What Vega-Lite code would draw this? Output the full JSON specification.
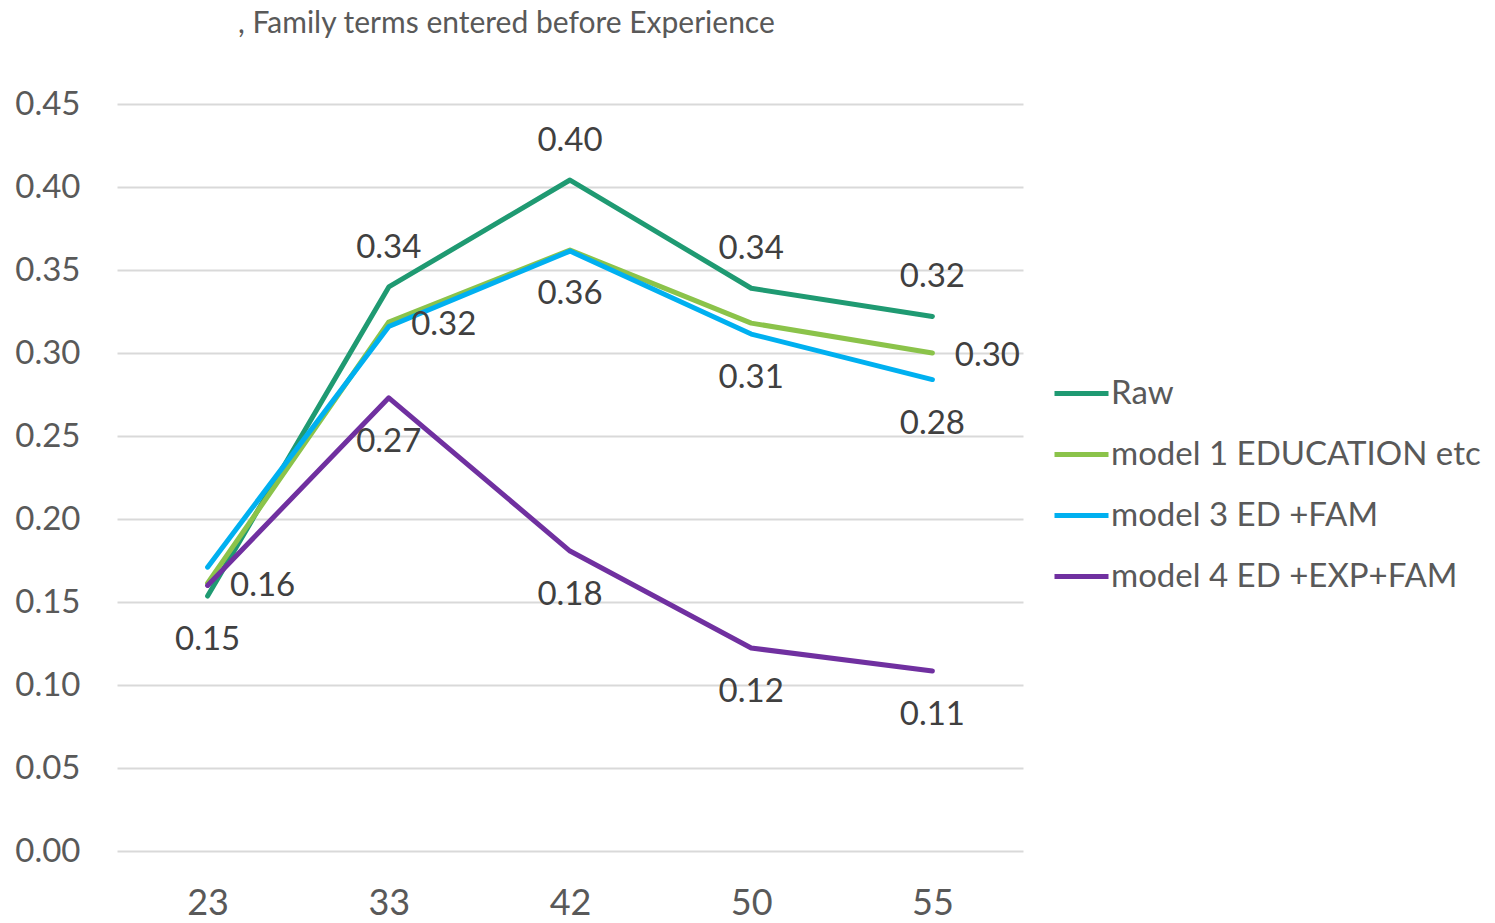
{
  "$schema": "https://vega.github.io/schema/vega-lite/v6.json",
  "autosize": {"type": "none"},
  "padding": {"left": 117, "top": 104, "right": 472, "bottom": 72},
  "width": 906,
  "height": 747,
  "background": "white",
  "config": {
    "font": "Lato",
    "view": {"stroke": null}
  },
  "title": {
    "text": ", Family terms entered before Experience",
    "anchor": "start",
    "frame": "group",
    "dx": 121,
    "offset": 49,
    "fontSize": 30,
    "fontWeight": "normal",
    "color": "#595959",
    "font": "Lato"
  },
  "data": {
    "values": [
      {"age": "23", "series": "Raw", "value": 0.1536},
      {"age": "33", "series": "Raw", "value": 0.3398},
      {"age": "42", "series": "Raw", "value": 0.4042},
      {"age": "50", "series": "Raw", "value": 0.3390},
      {"age": "55", "series": "Raw", "value": 0.3220},
      {"age": "23", "series": "model 1 EDUCATION etc", "value": 0.1614},
      {"age": "33", "series": "model 1 EDUCATION etc", "value": 0.3187},
      {"age": "42", "series": "model 1 EDUCATION etc", "value": 0.3620},
      {"age": "50", "series": "model 1 EDUCATION etc", "value": 0.3180},
      {"age": "55", "series": "model 1 EDUCATION etc", "value": 0.3000},
      {"age": "23", "series": "model 3 ED +FAM", "value": 0.1710},
      {"age": "33", "series": "model 3 ED +FAM", "value": 0.3160},
      {"age": "42", "series": "model 3 ED +FAM", "value": 0.3614},
      {"age": "50", "series": "model 3 ED +FAM", "value": 0.3114},
      {"age": "55", "series": "model 3 ED +FAM", "value": 0.2840},
      {"age": "23", "series": "model 4 ED +EXP+FAM", "value": 0.1600},
      {"age": "33", "series": "model 4 ED +EXP+FAM", "value": 0.2730},
      {"age": "42", "series": "model 4 ED +EXP+FAM", "value": 0.1807},
      {"age": "50", "series": "model 4 ED +EXP+FAM", "value": 0.1223},
      {"age": "55", "series": "model 4 ED +EXP+FAM", "value": 0.1084}
    ]
  },
  "encoding": {
    "x": {
      "field": "age",
      "type": "ordinal",
      "sort": ["23", "33", "42", "50", "55"],
      "scale": {"type": "point", "padding": 0.5},
      "axis": {
        "title": null,
        "labelAngle": 0,
        "domain": false,
        "ticks": false,
        "grid": false,
        "labelPadding": 35,
        "labelFontSize": 36,
        "labelColor": "#595959",
        "labelFont": "Lato"
      }
    },
    "y": {
      "field": "value",
      "type": "quantitative",
      "scale": {"domain": [0, 0.45], "nice": false},
      "axis": {
        "title": null,
        "values": [0, 0.05, 0.1, 0.15, 0.2, 0.25, 0.3, 0.35, 0.4, 0.45],
        "format": ".2f",
        "domain": false,
        "ticks": false,
        "gridColor": "#d9d9d9",
        "gridWidth": 2,
        "labelPadding": 37,
        "labelFontSize": 33,
        "labelColor": "#595959",
        "labelFont": "Lato"
      }
    }
  },
  "layer": [
    {
      "mark": {"type": "line", "strokeWidth": 5, "strokeCap": "round", "strokeJoin": "round"},
      "encoding": {
        "color": {
          "field": "series",
          "type": "nominal",
          "scale": {
            "domain": ["Raw", "model 1 EDUCATION etc", "model 3 ED +FAM", "model 4 ED +EXP+FAM"],
            "range": ["#1f9a72", "#8bc34a", "#00b0f0", "#7030a0"]
          },
          "legend": {
            "title": null,
            "orient": "none",
            "legendX": 935,
            "legendY": 260,
            "symbolType": "stroke",
            "symbolSize": 2916,
            "symbolStrokeWidth": 5,
            "labelOffset": 0,
            "labelFontSize": 33,
            "labelColor": "#595959",
            "labelFont": "Lato",
            "rowPadding": 14,
            "labelLimit": 600
          }
        }
      }
    },
    {
      "transform": [
        {"filter": "datum.series === 'Raw' && datum.age !== '23'"}
      ],
      "mark": {"type": "text", "dy": -39, "fontSize": 33, "color": "#404040", "font": "Lato"},
      "encoding": {"text": {"field": "value", "type": "quantitative", "format": ".2f"}}
    },
    {
      "transform": [
        {"filter": "(datum.series === 'Raw' && datum.age === '23') || datum.series === 'model 4 ED +EXP+FAM' && datum.age !== '23' || (datum.series === 'model 1 EDUCATION etc' && datum.age === '42') || (datum.series === 'model 3 ED +FAM' && (datum.age === '50' || datum.age === '55'))"}
      ],
      "mark": {"type": "text", "dy": 44, "fontSize": 33, "color": "#404040", "font": "Lato"},
      "encoding": {"text": {"field": "value", "type": "quantitative", "format": ".2f"}}
    },
    {
      "transform": [
        {"filter": "datum.series === 'model 1 EDUCATION etc' && (datum.age === '23' || datum.age === '33' || datum.age === '55')"}
      ],
      "mark": {"type": "text", "dx": 55, "dy": 3, "fontSize": 33, "color": "#404040", "font": "Lato"},
      "encoding": {"text": {"field": "value", "type": "quantitative", "format": ".2f"}}
    }
  ]
}
